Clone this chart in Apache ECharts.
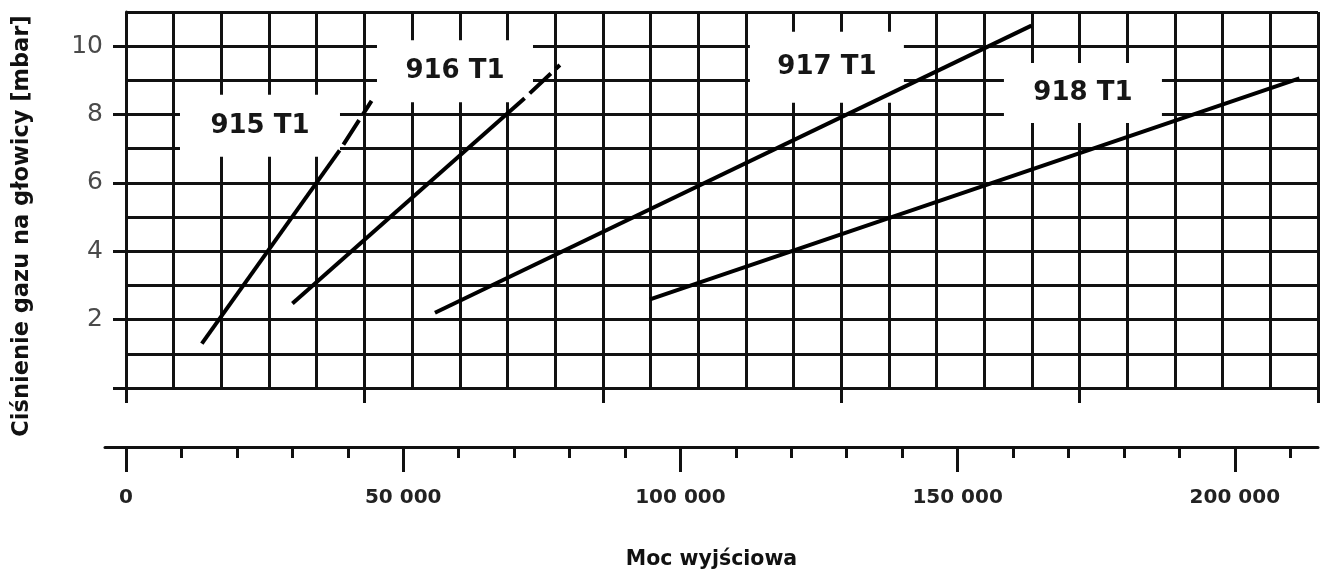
<!DOCTYPE html>
<html>
<head>
<meta charset="utf-8">
<script src="https://cdn.jsdelivr.net/npm/echarts@6/dist/echarts.min.js"></script>
<style>
html,body{margin:0;padding:0;background:#fff;}
#chart{width:1322px;height:574px;}
</style>
</head>
<body>
<div id="chart"></div>
<script>
// ---- data ----
const seriesNames   = ['915 T1', '916 T1', '917 T1', '918 T1'];
const powerStartKW  = [15.9, 34.9, 64.8, 109.9];   // kW (upper scale)
const pressureStart = [1.3, 2.47, 2.2, 2.59];      // mbar
const powerEndKW    = [51.5, 91.0, 189.9, 246.1];  // kW
const pressureEnd   = [8.4, 9.45, 10.6, 9.06];     // mbar
// point where the curve turns into a dashed (extrapolated) part; null = fully solid
const dashFromKW    = [44.8, 83.6, null, null];
const dashFromMbar  = [6.95, 8.48, null, null];

// label anchors (kW, mbar)
const labelKW   = [28.1, 69.0, 147.0, 200.7];
const labelMbar = [7.67, 9.27, 9.38, 8.63];

// axis ticks
const kwMajorTicks   = [0, 50, 100, 150, 200, 250];
const mbarTicks      = [0, 2, 4, 6, 8, 10];
const mbarLabels     = [2, 4, 6, 8, 10];
const kcalMinorTicks = [0,10000,20000,30000,40000,50000,60000,70000,80000,90000,100000,110000,120000,130000,140000,150000,160000,170000,180000,190000,200000,210000];
const kcalLabels     = [0, 50000, 100000, 150000, 200000];

// ---- styles ----
const boxW = [160, 156, 154, 158];
const boxH = [62, 62, 71, 60];
const ink = '#111';
const gridLine = {color: ink, width: 3};

const chart = echarts.init(document.getElementById('chart'), null, {renderer: 'canvas'});

const series = [];
seriesNames.forEach((n, i) => {
  const start = [powerStartKW[i], pressureStart[i]];
  const end = [powerEndKW[i], pressureEnd[i]];
  if (dashFromKW[i] == null) {
    series.push({
      name: n, type: 'line', xAxisIndex: 0, yAxisIndex: 0,
      data: [start, end], symbol: 'none', z: 5, silent: true,
      lineStyle: {color: '#000', width: 4}
    });
  } else {
    const mid = [dashFromKW[i], dashFromMbar[i]];
    series.push({
      name: n, type: 'line', xAxisIndex: 0, yAxisIndex: 0,
      data: [start, mid], symbol: 'none', z: 5, silent: true,
      lineStyle: {color: '#000', width: 4}
    });
    series.push({
      name: n + ' ext', type: 'line', xAxisIndex: 0, yAxisIndex: 0,
      data: [mid, end], symbol: 'none', z: 5, silent: true,
      lineStyle: {color: '#000', width: 4, type: [29, 7], dashOffset: 29}
    });
  }
});
seriesNames.forEach((n, i) => {
  series.push({
    name: n + ' label', type: 'scatter', xAxisIndex: 0, yAxisIndex: 0,
    data: [[labelKW[i], labelMbar[i]]],
    symbolSize: 0, z: 3, silent: true,
    itemStyle: {opacity: 1},
    label: {
      show: true, position: 'inside', formatter: n, opacity: 1,
      backgroundColor: '#fff', width: boxW[i], height: boxH[i], lineHeight: boxH[i],
      align: 'center', verticalAlign: 'middle',
      fontFamily: 'DejaVu Sans', fontWeight: 'bold', fontSize: 26, color: '#161616'
    }
  });
});

const option = {
  backgroundColor: '#fff',
  animation: false,
  grid: [
    {left: 126, right: 4, top: 12, bottom: 186, outerBoundsMode: 'none', containLabel: false},
    {left: 105, right: 4, top: 447, bottom: 127, outerBoundsMode: 'none', containLabel: false}
  ],
  xAxis: [
    {
      type: 'value', gridIndex: 0, min: 0, max: 250, interval: 10, position: 'bottom',
      axisLine: {show: true, lineStyle: gridLine},
      axisTick: {show: false},
      axisLabel: {show: false},
      splitLine: {show: true, lineStyle: gridLine}
    },
    {
      type: 'value', gridIndex: 0, min: 0, max: 250, position: 'bottom',
      axisLine: {show: false},
      axisTick: {show: true, customValues: kwMajorTicks, length: 15, lineStyle: gridLine},
      axisLabel: {show: false},
      splitLine: {show: false}
    },
    {
      type: 'value', gridIndex: 1, min: -3788, max: 215000, position: 'bottom',
      axisLine: {show: true, lineStyle: gridLine},
      axisTick: {show: true, customValues: kcalMinorTicks, length: 11, lineStyle: gridLine},
      axisLabel: {show: false},
      splitLine: {show: false}
    },
    {
      type: 'value', gridIndex: 1, min: -3788, max: 215000, position: 'bottom',
      axisLine: {show: false},
      axisTick: {show: true, customValues: kcalLabels, length: 25, lineStyle: gridLine},
      axisLabel: {
        show: true, customValues: kcalLabels, margin: 41,
        formatter: v => v === 0 ? '0' : (v / 1000) + ' 000',
        fontFamily: 'DejaVu Sans', fontWeight: 'bold', fontSize: 20, color: '#222'
      },
      splitLine: {show: false},
      name: 'Moc wyjściowa', nameLocation: 'middle', nameGap: 102,
      nameTextStyle: {fontFamily: 'DejaVu Sans', fontWeight: 'bold', fontSize: 20.5, color: '#111'}
    }
  ],
  yAxis: [
    {
      type: 'value', gridIndex: 0, min: 0, max: 11, interval: 1, position: 'left',
      axisLine: {show: true, lineStyle: gridLine},
      axisTick: {show: false},
      axisLabel: {show: false},
      splitLine: {show: true, lineStyle: gridLine},
      name: 'Ciśnienie gazu na głowicy [mbar]', nameLocation: 'middle', nameGap: 92,
      nameTextStyle: {fontFamily: 'DejaVu Sans', fontWeight: 'bold', fontSize: 22.5, color: '#111', padding: [0, 52, 0, 0]}
    },
    {
      type: 'value', gridIndex: 0, min: 0, max: 11, position: 'left',
      axisLine: {show: false},
      axisTick: {show: true, customValues: mbarTicks, length: 13, lineStyle: gridLine},
      axisLabel: {
        show: true, customValues: mbarLabels, margin: 23,
        fontFamily: 'DejaVu Sans', fontSize: 25, color: '#4a4a4a'
      },
      splitLine: {show: false}
    },
    {type: 'value', gridIndex: 1, show: false, min: 0, max: 1}
  ],
  series: series
};
chart.setOption(option);
</script>
</body>
</html>
